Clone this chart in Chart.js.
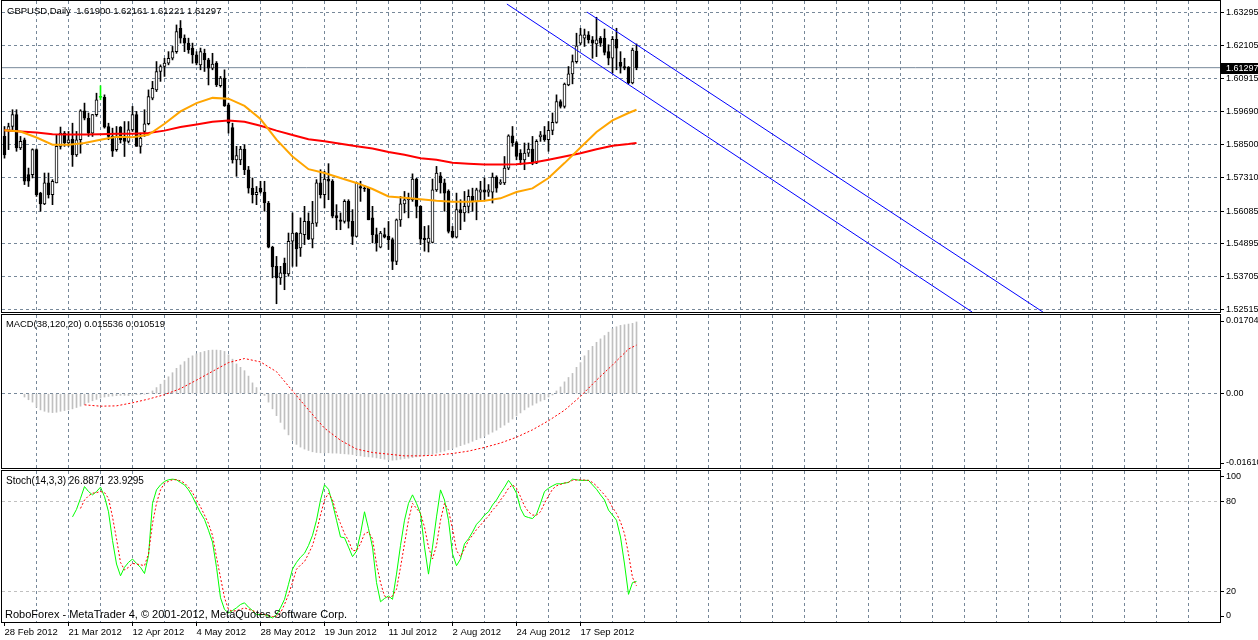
<!DOCTYPE html>
<html>
<head>
<meta charset="utf-8">
<title>GBPUSD Daily</title>
<script src="https://cdn.jsdelivr.net/npm/chart.js@4.4.1/dist/chart.umd.min.js"></script>
<style>
  html, body { margin: 0; padding: 0; background: #fff; }
  #wrap { position: relative; width: 1258px; height: 640px; overflow: hidden; font-family: "Liberation Sans", Arial, sans-serif; }
  .pane { position: absolute; left: 0; width: 1258px; }
  .pane canvas { display: block; }
  .note { position: absolute; color: #000; font-size: 10px; line-height: 12px; white-space: pre; }
</style>
</head>
<body>
<div id="wrap">
  <div class="pane" style="top:0;height:313px"><canvas id="priceChart" width="1258" height="313"></canvas></div>
  <div class="pane" style="top:313px;height:157px"><canvas id="macdChart" width="1258" height="157"></canvas></div>
  <div class="pane" style="top:469px;height:171px"><canvas id="stochChart" width="1258" height="171"></canvas></div>
  <div class="note" style="left:7px;top:5px;font-size:9.5px">GBPUSD,Daily  1.61900 1.62161 1.61221 1.61297</div>
  <div class="note" style="left:6px;top:318px;font-size:9.4px">MACD(38,120,20) 0.015536 0.010519</div>
  <div class="note" style="left:6px;top:475px">Stoch(14,3,3) 26.8871 23.9295</div>
  <div class="note" style="left:5px;top:608px;font-size:11px;line-height:13px">RoboForex - MetaTrader 4, © 2001-2012, MetaQuotes Software Corp.</div>
</div>
<script>
// ---- values (bar index 0 = 28 Feb 2012) ----
const dateLabels = ['28 Feb 2012', '21 Mar 2012', '12 Apr 2012', '4 May 2012', '28 May 2012',
  '19 Jun 2012', '11 Jul 2012', '2 Aug 2012', '24 Aug 2012', '17 Sep 2012'];

const open = [
  1.5880, 1.5902, 1.5916, 1.5959, 1.5838, 1.5868, 1.5741, 1.5741, 1.5832, 1.5674,
  1.5635, 1.5711, 1.5668, 1.5711, 1.5844, 1.5892, 1.5856, 1.5870, 1.5813, 1.5868,
  1.5973, 1.5946, 1.5892, 1.5959, 1.6022, 1.6022, 1.5916, 1.5880, 1.5832, 1.5914,
  1.5880, 1.5862, 1.5904, 1.5959, 1.5844, 1.5898, 1.5926, 1.6019, 1.6049, 1.6116,
  1.6134, 1.6146, 1.6164, 1.6188, 1.6273, 1.6237, 1.6219, 1.6201, 1.6176, 1.6140,
  1.6182, 1.6158, 1.6128, 1.6146, 1.6064, 1.6092, 1.5995, 1.5912, 1.5795, 1.5795,
  1.5834, 1.5759, 1.5692, 1.5668, 1.5692, 1.5678, 1.5638, 1.5478, 1.5408, 1.5366,
  1.5420, 1.5380, 1.5499, 1.5529, 1.5475, 1.5523, 1.5571, 1.5507, 1.5565, 1.5711,
  1.5668, 1.5725, 1.5717, 1.5592, 1.5577, 1.5571, 1.5644, 1.5571, 1.5517, 1.5698,
  1.5692, 1.5692, 1.5584, 1.5523, 1.5478, 1.5523, 1.5517, 1.5505, 1.5426, 1.5577,
  1.5635, 1.5650, 1.5650, 1.5725, 1.5626, 1.5511, 1.5495, 1.5495, 1.5686, 1.5737,
  1.5711, 1.5680, 1.5535, 1.5514, 1.5614, 1.5602, 1.5626, 1.5662, 1.5644, 1.5677,
  1.5686, 1.5677, 1.5677, 1.5732, 1.5709, 1.5711, 1.5765, 1.5882, 1.5858, 1.5819,
  1.5795, 1.5819, 1.5834, 1.5783, 1.5878, 1.5886, 1.5868, 1.5902, 1.5931, 1.6007,
  1.5989, 1.6067, 1.6107, 1.6152, 1.6219, 1.6237, 1.6249, 1.6231, 1.6216, 1.6237,
  1.6237, 1.6188, 1.6164, 1.6233, 1.6149, 1.6134, 1.6131, 1.6074, 1.61900
];
const high = [
  1.5916, 1.5928, 1.5977, 1.5977, 1.5880, 1.5874, 1.5765, 1.5835, 1.5835, 1.5677,
  1.5747, 1.5747, 1.5723, 1.5886, 1.5914, 1.5898, 1.5898, 1.5928, 1.5898, 1.5977,
  1.6001, 1.5965, 1.5960, 1.6037, 1.6064, 1.6031, 1.5928, 1.5910, 1.5916, 1.5916,
  1.5934, 1.5934, 1.5989, 1.5971, 1.5892, 1.5977, 1.6049, 1.6080, 1.6152, 1.6140,
  1.6164, 1.6188, 1.6207, 1.6285, 1.6301, 1.6249, 1.6237, 1.6219, 1.6188, 1.6201,
  1.6197, 1.6164, 1.6182, 1.6152, 1.6098, 1.6122, 1.6001, 1.5928, 1.5844, 1.5844,
  1.5850, 1.5771, 1.5729, 1.5698, 1.5717, 1.5717, 1.5644, 1.5481, 1.5444, 1.5408,
  1.5438, 1.5529, 1.5602, 1.5531, 1.5584, 1.5626, 1.5602, 1.5644, 1.5723, 1.5759,
  1.5753, 1.5781, 1.5723, 1.5632, 1.5602, 1.5650, 1.5650, 1.5614, 1.5713, 1.5717,
  1.5701, 1.5695, 1.5626, 1.5547, 1.5535, 1.5547, 1.5571, 1.5511, 1.5580, 1.5662,
  1.5680, 1.5674, 1.5744, 1.5728, 1.5628, 1.5553, 1.5556, 1.5725, 1.5771, 1.5749,
  1.5725, 1.5686, 1.5553, 1.5674, 1.5650, 1.5680, 1.5686, 1.5692, 1.5692, 1.5717,
  1.5729, 1.5705, 1.5747, 1.5737, 1.5723, 1.5807, 1.5886, 1.5916, 1.5862, 1.5832,
  1.5856, 1.5856, 1.5880, 1.5868, 1.5898, 1.5916, 1.5934, 1.5965, 1.6031, 1.6013,
  1.6074, 1.6134, 1.6176, 1.6255, 1.6273, 1.6270, 1.6261, 1.6243, 1.6313, 1.6243,
  1.6270, 1.6213, 1.6243, 1.6273, 1.6188, 1.6164, 1.6134, 1.6201, 1.62161
];
const low = [
  1.5801, 1.5832, 1.5904, 1.5826, 1.5832, 1.5705, 1.5698, 1.5729, 1.5662, 1.5608,
  1.5632, 1.5656, 1.5632, 1.5711, 1.5834, 1.5844, 1.5844, 1.5771, 1.5807, 1.5819,
  1.5940, 1.5880, 1.5880, 1.5953, 1.6013, 1.5910, 1.5868, 1.5807, 1.5826, 1.5856,
  1.5807, 1.5856, 1.5898, 1.5844, 1.5819, 1.5880, 1.5922, 1.6013, 1.6043, 1.6080,
  1.6098, 1.6140, 1.6158, 1.6182, 1.6219, 1.6188, 1.6182, 1.6146, 1.6140, 1.6122,
  1.6116, 1.6067, 1.6122, 1.6061, 1.6059, 1.5989, 1.5892, 1.5783, 1.5735, 1.5777,
  1.5741, 1.5674, 1.5638, 1.5632, 1.5674, 1.5608, 1.5475, 1.5366, 1.5272, 1.5342,
  1.5323, 1.5372, 1.5408, 1.5408, 1.5444, 1.5487, 1.5505, 1.5475, 1.5553, 1.5656,
  1.5620, 1.5650, 1.5584, 1.5541, 1.5541, 1.5565, 1.5547, 1.5487, 1.5515, 1.5644,
  1.5680, 1.5577, 1.5493, 1.5463, 1.5475, 1.5511, 1.5469, 1.5396, 1.5414, 1.5553,
  1.5602, 1.5584, 1.5644, 1.5584, 1.5487, 1.5463, 1.5460, 1.5493, 1.5680, 1.5674,
  1.5608, 1.5529, 1.5511, 1.5511, 1.5541, 1.5571, 1.5602, 1.5608, 1.5577, 1.5650,
  1.5650, 1.5662, 1.5638, 1.5677, 1.5705, 1.5705, 1.5759, 1.5844, 1.5795, 1.5777,
  1.5759, 1.5807, 1.5777, 1.5781, 1.5862, 1.5862, 1.5826, 1.5886, 1.5928, 1.5983,
  1.5983, 1.6064, 1.6071, 1.6146, 1.6213, 1.6207, 1.6219, 1.6164, 1.6170, 1.6207,
  1.6176, 1.6140, 1.6110, 1.6122, 1.6110, 1.6122, 1.6071, 1.6071, 1.61221
];
const close = [
  1.5813, 1.5916, 1.5959, 1.5838, 1.5862, 1.5717, 1.5717, 1.5832, 1.5668, 1.5635,
  1.5711, 1.5668, 1.5717, 1.5844, 1.5892, 1.5856, 1.5868, 1.5813, 1.5868, 1.5973,
  1.5946, 1.5892, 1.5959, 1.6013, 1.6022, 1.5914, 1.5880, 1.5826, 1.5880, 1.5868,
  1.5862, 1.5904, 1.5959, 1.5844, 1.5874, 1.5926, 1.6025, 1.6055, 1.6116, 1.6134,
  1.6146, 1.6164, 1.6188, 1.6261, 1.6237, 1.6219, 1.6194, 1.6176, 1.6146, 1.6188,
  1.6158, 1.6128, 1.6143, 1.6067, 1.6092, 1.5991, 1.5928, 1.5795, 1.5810, 1.5834,
  1.5759, 1.5692, 1.5668, 1.5677, 1.5678, 1.5638, 1.5478, 1.5406, 1.5366, 1.5384,
  1.5380, 1.5499, 1.5529, 1.5471, 1.5529, 1.5571, 1.5507, 1.5565, 1.5711, 1.5668,
  1.5725, 1.5717, 1.5590, 1.5584, 1.5571, 1.5644, 1.5571, 1.5517, 1.5711, 1.5692,
  1.5689, 1.5577, 1.5523, 1.5493, 1.5529, 1.5514, 1.5505, 1.5426, 1.5577, 1.5635,
  1.5650, 1.5656, 1.5725, 1.5626, 1.5507, 1.5505, 1.5511, 1.5686, 1.5747, 1.5711,
  1.5674, 1.5535, 1.5514, 1.5614, 1.5602, 1.5626, 1.5662, 1.5644, 1.5686, 1.5686,
  1.5677, 1.5686, 1.5732, 1.5692, 1.5713, 1.5765, 1.5882, 1.5856, 1.5807, 1.5795,
  1.5819, 1.5834, 1.5783, 1.5862, 1.5886, 1.5868, 1.5902, 1.5931, 1.6007, 1.5989,
  1.6070, 1.6107, 1.6152, 1.6209, 1.6249, 1.6249, 1.6231, 1.6219, 1.6231, 1.6219,
  1.6185, 1.6164, 1.6233, 1.6201, 1.6134, 1.6128, 1.6074, 1.6194, 1.61297
];

// moving averages, read every 4 bars
const maIdx = [0, 4, 8, 12, 16, 20, 24, 28, 32, 36, 40, 44, 48, 52, 56, 60, 64, 68, 72, 76,
  80, 84, 88, 92, 96, 100, 104, 108, 112, 116, 120, 124, 128, 132, 136, 140, 144, 148, 152, 156, 158];
const maOrange = [1.5902, 1.5898, 1.5876, 1.5850, 1.5850, 1.5856, 1.5868, 1.5879, 1.5877, 1.5886,
  1.5926, 1.5971, 1.6001, 1.6020, 1.6017, 1.5991, 1.5943, 1.5868, 1.5807, 1.5761,
  1.5747, 1.5729, 1.5711, 1.5689, 1.5662, 1.5657, 1.5652, 1.5646, 1.5643, 1.5643,
  1.5646, 1.5655, 1.5678, 1.5691, 1.5729, 1.5783, 1.5840, 1.5896, 1.5938, 1.5965, 1.5977];
const maRed = [1.5902, 1.5898, 1.5894, 1.5888, 1.5887, 1.5887, 1.5888, 1.5890, 1.5890, 1.5892,
  1.5901, 1.5914, 1.5923, 1.5933, 1.5938, 1.5933, 1.5919, 1.5901, 1.5885, 1.5870,
  1.5862, 1.5853, 1.5844, 1.5836, 1.5823, 1.5813, 1.5801, 1.5795, 1.5784, 1.5781,
  1.5778, 1.5778, 1.5779, 1.5784, 1.5795, 1.5807, 1.5819, 1.5833, 1.5846, 1.5852, 1.5856];

// trend channel: [bar index, price] end points
const channelUpper = [[145.6, 1.6332], [259.6, 1.5242]];
const channelLower = [[125.6, 1.6361], [241.9, 1.5242]];
const bid = 1.61297;

const priceTicks = [1.63295, 1.62105, 1.60915, 1.59690, 1.58500, 1.57310, 1.56085, 1.54895, 1.53705, 1.52515];

// MACD histogram from bar 5 on
const macdStart = 5;
const macdHist = [
  -0.00073, -0.00132, -0.00183, -0.00293, -0.00351, -0.00381, -0.00403, -0.00410, -0.00403, -0.00381,
  -0.00366, -0.00351, -0.00329, -0.00300, -0.00271, -0.00234, -0.00190, -0.00154, -0.00124, -0.00095,
  -0.00073, -0.00059, -0.00051, -0.00044, -0.00037, -0.00037, -0.00044, -0.00037, -0.00022, -0.00015,
  -0.00007, 0.00005, 0.00059, 0.00132, 0.00205, 0.00293, 0.00366, 0.00454, 0.00549, 0.00622,
  0.00695, 0.00769, 0.00820, 0.00864, 0.00893, 0.00915, 0.00937, 0.00944, 0.00944, 0.00937,
  0.00915, 0.00842, 0.00747, 0.00644, 0.00571, 0.00498, 0.00381, 0.00234, 0.00132, 0.00015,
  -0.00037, -0.00183, -0.00329, -0.00476, -0.00622, -0.00769, -0.00893, -0.01010, -0.01098, -0.01157,
  -0.01200, -0.01230, -0.01259, -0.01274, -0.01281, -0.01281, -0.01281, -0.01288, -0.01288, -0.01296,
  -0.01303, -0.01310, -0.01318, -0.01332, -0.01347, -0.01362, -0.01369, -0.01376, -0.01391, -0.01405,
  -0.01420, -0.01435, -0.01442, -0.01435, -0.01420, -0.01405, -0.01398, -0.01383, -0.01369, -0.01354,
  -0.01340, -0.01325, -0.01310, -0.01288, -0.01266, -0.01244, -0.01215, -0.01186, -0.01157, -0.01127,
  -0.01098, -0.01069, -0.01032, -0.00996, -0.00959, -0.00922, -0.00878, -0.00834, -0.00791, -0.00732,
  -0.00681, -0.00622, -0.00549, -0.00483, -0.00417, -0.00351, -0.00293, -0.00249, -0.00205, -0.00161,
  -0.00132, -0.00073, -0.00029, 0.00059, 0.00146, 0.00256, 0.00351, 0.00439, 0.00571, 0.00673,
  0.00820, 0.00937, 0.01025, 0.01113, 0.01186, 0.01259, 0.01332, 0.01405, 0.01449, 0.01479,
  0.01493, 0.01508, 0.01523, 0.015536
];
const signalIdx = [20, 24, 28, 32, 36, 40, 44, 48, 52, 56, 60, 64, 68, 72, 76, 80, 84, 88, 92, 96,
  100, 104, 108, 112, 116, 120, 124, 128, 132, 136, 140, 144, 148, 152, 156, 158];
const macdSignal = [-0.00242, -0.00271, -0.00264, -0.00198, -0.00117, -0.00022, 0.00110, 0.00293, 0.00483, 0.00673,
  0.00761, 0.00688, 0.00476, 0.00059, -0.00351, -0.00747, -0.01010, -0.01200, -0.01274, -0.01310,
  -0.01347, -0.01347, -0.01332, -0.01296, -0.01244, -0.01164, -0.01069, -0.00944, -0.00783, -0.00586,
  -0.00359, -0.00059, 0.00293, 0.00622, 0.00966, 0.010519];
const macdMax = 0.01704, macdMin = -0.01610;
const macdTickLabels = ['0.01704', '0.00', '-0.01610'];

// Stochastic %K from bar 17, %D from bar 19
const stochStart = 17;
const stochMain = [
  69.6, 74.6, 81.9, 89.7, 86.4, 84.2, 86.4, 89.3, 83.0, 73.0,
  54.0, 38.4, 30.6, 36.2, 39.5, 41.7, 38.8, 36.2, 32.1, 44.0,
  78.6, 87.5, 90.8, 93.1, 94.2, 94.6, 94.2, 92.4, 90.8, 87.5,
  83.0, 77.5, 72.3, 67.9, 60.7, 52.9, 36.2, 16.1, 8.3, 6.0,
  7.6, 9.4, 11.6, 12.7, 9.8, 7.6, 4.9, 4.9, 4.9, 3.8,
  2.7, 4.9, 9.4, 15.0, 25.0, 35.0, 39.5, 42.9, 45.5, 50.7,
  57.4, 67.4, 80.8, 90.8, 87.9, 78.6, 67.4, 56.3, 55.8, 49.6,
  43.3, 46.9, 58.5, 73.0, 61.8, 49.6, 26.1, 13.4, 15.6, 17.2,
  15.0, 31.7, 50.7, 67.4, 78.6, 84.2, 78.6, 71.9, 49.6, 31.7,
  49.6, 69.6, 87.5, 80.8, 67.4, 45.1, 37.3, 41.7, 51.8, 55.1,
  59.6, 64.7, 67.4, 70.8, 73.0, 77.5, 80.8, 85.3, 89.3, 93.8,
  90.2, 85.3, 75.2, 70.1, 69.2, 68.5, 71.4, 78.6, 86.4, 88.6,
  90.2, 91.5, 91.5, 92.0, 92.4, 94.6, 94.2, 93.8, 93.8, 93.8,
  90.8, 87.9, 84.2, 80.8, 74.1, 70.8, 67.4, 56.3, 38.4, 18.3,
  26.1, 26.8871
];
const signalStart = 19;
const stochSignal = [
  75.2, 80.8, 83.5, 85.3, 85.7, 86.4, 85.7, 81.9, 69.6, 55.1,
  39.5, 34.4, 36.2, 38.8, 38.4, 37.9, 37.3, 45.1, 65.2, 78.6,
  87.5, 92.0, 93.1, 94.2, 94.2, 93.5, 92.0, 89.3, 85.7, 80.8,
  76.3, 70.8, 65.2, 57.4, 42.9, 29.5, 16.1, 8.3, 7.1, 7.6,
  8.3, 9.4, 8.3, 7.6, 6.5, 5.4, 4.9, 4.2, 3.6, 3.8,
  6.0, 11.6, 18.3, 26.1, 35.0, 37.7, 40.0, 45.1, 50.7, 59.6,
  70.8, 80.8, 85.3, 80.8, 71.9, 65.2, 58.5, 54.0, 47.3, 47.3,
  51.8, 58.5, 59.6, 55.1, 38.4, 26.1, 17.2, 16.1, 17.2, 21.7,
  36.2, 51.8, 67.4, 78.6, 75.2, 71.9, 62.9, 49.6, 41.7, 50.7,
  67.4, 78.6, 74.1, 61.8, 47.3, 43.3, 48.4, 54.0, 57.4, 61.2,
  64.1, 67.4, 70.1, 74.1, 76.8, 80.8, 84.2, 88.6, 90.8, 88.6,
  83.0, 76.8, 73.0, 70.8, 70.8, 73.0, 78.6, 83.5, 87.9, 90.2,
  91.1, 92.0, 92.6, 93.8, 94.0, 94.2, 94.0, 93.8, 92.4, 90.2,
  87.1, 84.2, 80.8, 75.9, 71.9, 66.3, 58.5, 45.1, 29.5, 23.9295
];
const stochTickLabels = ['100', '80', '20', '0'];

// ---- look ----
const GRID = '#778899';
const LEVEL = '#c0c0c0';
const NONE = 'rgba(0,0,0,0)';
const dateFont = { family: 'Liberation Sans', size: 9.5 };
const valueFont = { family: 'Liberation Sans', size: 9 };
const X_MIN = -0.625, X_MAX = 303.875;   // 4 px per bar
const AXIS_W = 38;

Chart.defaults.font.family = 'Liberation Sans';
Chart.defaults.color = '#000';

const gridBars = [];
for (let i = 0; i <= 296; i += 8) gridBars.push(i);

function xScale(showLabels) {
  return {
    type: 'linear', min: X_MIN, max: X_MAX, offset: false,
    afterBuildTicks: s => { s.ticks = gridBars.map(v => ({ value: v })); },
    grid: {
      offset: false,
      color: c => (c.tick && c.tick.value > 0 ? GRID : NONE),
      drawTicks: showLabels, tickLength: 4,
      tickColor: c => (c.tick && c.tick.value % 16 === 0 && c.tick.value / 16 < dateLabels.length ? '#000' : NONE)
    },
    border: { display: false, dash: [3, 3] },
    ticks: {
      display: showLabels, autoSkip: false, maxRotation: 0, minRotation: 0,
      align: 'start', padding: 1, font: dateFont, color: '#000',
      callback: v => (v % 16 === 0 ? (dateLabels[v / 16] || '') : '')
    },
    afterFit: s => { s.height = showLabels ? 18 : 0; s.paddingLeft = 0; s.paddingRight = 0; }
  };
}

function yScale(min, max, tickValues, labelFn, gridColor) {
  return {
    type: 'linear', position: 'right', min, max,
    afterBuildTicks: s => { s.ticks = tickValues.map(v => ({ value: v })); },
    grid: { color: gridColor, tickLength: 4, tickColor: '#000' },
    border: { display: false, dash: [3, 3] },
    ticks: { autoSkip: false, padding: 2, font: valueFont, color: '#000', callback: labelFn },
    afterFit: s => { s.width = AXIS_W; s.paddingTop = 0; s.paddingBottom = 0; }
  };
}

const framePlugin = {
  id: 'frame',
  afterDraw(chart) {
    const { ctx, chartArea: a } = chart;
    ctx.save();
    ctx.strokeStyle = '#000';
    ctx.lineWidth = 1;
    ctx.strokeRect(Math.round(a.left) - 0.5, Math.round(a.top) - 0.5,
      Math.round(a.right - a.left) + 1, Math.round(a.bottom - a.top) + 1);
    ctx.restore();
  }
};

const bidLabelPlugin = {
  id: 'bidLabel',
  afterDraw(chart) {
    const { ctx, chartArea: a } = chart;
    const y = Math.round(chart.scales.y.getPixelForValue(bid));
    ctx.save();
    ctx.fillStyle = '#000';
    ctx.fillRect(a.right + 1, y - 5, 40, 11);
    ctx.fillStyle = '#fff';
    ctx.font = '9px "Liberation Sans"';
    ctx.textBaseline = 'middle';
    ctx.fillText(bid.toFixed(5), a.right + 6, y + 0.5);
    ctx.restore();
  }
};

function baseOptions(padding) {
  return {
    responsive: false, devicePixelRatio: 1, animation: false, events: [],
    layout: { padding },
    plugins: { legend: { display: false }, tooltip: { enabled: false } },
    datasets: { bar: { grouped: false } }
  };
}

function lineSet(points, color, dash, order) {
  return {
    type: 'line', data: points, borderColor: color, borderWidth: 1, borderDash: dash || [],
    pointRadius: 0, tension: 0, fill: false, order: order || 0
  };
}

// ---- price pane ----
const bodies = close.map((c, i) => ({ x: i, y: [open[i], c] }));
const wicks = close.map((c, i) => ({ x: i, y: [low[i], high[i]] }));
const bodyFill = close.map((c, i) => (c === open[i] ? '#00ff00' : c > open[i] ? '#ffffff' : '#000000'));
const bodyEdge = close.map((c, i) => (c === open[i] ? '#00ff00' : '#000000'));

const priceOpts = baseOptions({ left: 2, right: 0, top: 1, bottom: 1 });
priceOpts.scales = {
  x: xScale(false),
  y: yScale(1.5242, 1.6372, priceTicks, v => v.toFixed(5), GRID)
};

new Chart(document.getElementById('priceChart'), {
  type: 'bar',
  data: {
    datasets: [
      Object.assign(lineSet(maIdx.map((i, k) => ({ x: i, y: maOrange[k] })), '#ffa500'), { borderWidth: 2 }),
      Object.assign(lineSet(maIdx.map((i, k) => ({ x: i, y: maRed[k] })), '#ff0000'), { borderWidth: 2 }),
      lineSet(channelUpper.map(p => ({ x: p[0], y: p[1] })), '#0000ff'),
      lineSet(channelLower.map(p => ({ x: p[0], y: p[1] })), '#0000ff'),
      {
        type: 'bar', data: bodies, barThickness: 3, backgroundColor: bodyFill, borderColor: bodyEdge,
        borderWidth: 1, borderSkipped: false, minBarLength: 1, order: 1
      },
      { type: 'bar', data: wicks, barThickness: 1, backgroundColor: bodyEdge, order: 2 },
      lineSet([{ x: X_MIN, y: bid }, { x: X_MAX, y: bid }], GRID, [], 3)
    ]
  },
  options: priceOpts,
  plugins: [framePlugin, bidLabelPlugin]
});

// ---- MACD pane ----
const macdPx = (macdMax - macdMin) / 153;
const macdOpts = baseOptions({ left: 2, right: 0, top: 2, bottom: 2 });
macdOpts.scales = {
  x: xScale(false),
  y: yScale(macdMin, macdMax, [macdMax - 6 * macdPx, 0, macdMin + 5 * macdPx],
    (v, i) => macdTickLabels[i], c => (c.index === 1 ? GRID : NONE))
};

new Chart(document.getElementById('macdChart'), {
  type: 'bar',
  data: {
    datasets: [
      lineSet(signalIdx.map((i, k) => ({ x: i, y: macdSignal[k] })), '#ff0000', [2, 2]),
      { type: 'bar', data: macdHist.map((v, k) => ({ x: macdStart + k, y: v })), barThickness: 1, backgroundColor: '#c0c0c0', order: 1 }
    ]
  },
  options: macdOpts,
  plugins: [framePlugin]
});

// ---- Stochastic pane ----
const stochPx = 100 / 151;
const stochOpts = baseOptions({ left: 2, right: 0, top: 2, bottom: 0 });
stochOpts.scales = {
  x: xScale(true),
  y: yScale(0, 100, [100 - 6 * stochPx, 80, 20, 6 * stochPx],
    (v, i) => stochTickLabels[i], c => (c.index === 1 || c.index === 2 ? LEVEL : NONE))
};

new Chart(document.getElementById('stochChart'), {
  type: 'bar',
  data: {
    datasets: [
      lineSet(stochSignal.map((v, k) => ({ x: signalStart + k, y: v })), '#ff0000', [2, 2]),
      lineSet(stochMain.map((v, k) => ({ x: stochStart + k, y: v })), '#00ff00')
    ]
  },
  options: stochOpts,
  plugins: [framePlugin]
});
</script>
</body>
</html>
